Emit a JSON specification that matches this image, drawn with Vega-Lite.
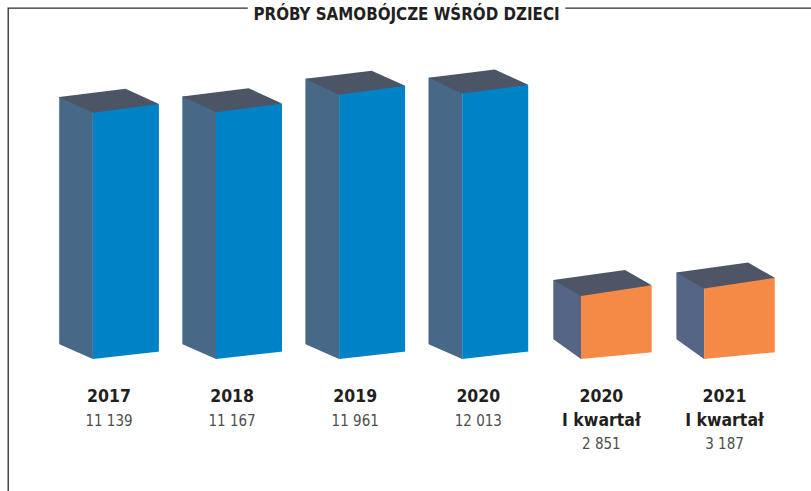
{
  "$schema": "https://vega.github.io/schema/vega-lite/v6.json",
  "width": 819,
  "height": 499,
  "autosize": {"type": "none"},
  "padding": {"left": 8, "top": 8, "right": -16, "bottom": -16},
  "background": "white",
  "title": {
    "text": "PRÓBY SAMOBÓJCZE WŚRÓD DZIECI",
    "subtitle": "PRÓBY SAMOBÓJCZE WŚRÓD DZIECI",
    "anchor": "middle",
    "frame": "group",
    "offset": -16,
    "subtitlePadding": -16.8,
    "dx": -11,
    "font": "DejaVu Sans Condensed, sans-serif",
    "fontSize": 16.8,
    "fontWeight": "bold",
    "color": "white",
    "subtitleFont": "DejaVu Sans Condensed, sans-serif",
    "subtitleFontSize": 16.8,
    "subtitleFontWeight": "bold",
    "subtitleColor": "#231f20"
  },
  "data": {
    "values": [
      {"cat": "2017", "label": "2017", "group": "rok", "value": 11139},
      {"cat": "2018", "label": "2018", "group": "rok", "value": 11167},
      {"cat": "2019", "label": "2019", "group": "rok", "value": 11961},
      {"cat": "2020", "label": "2020", "group": "rok", "value": 12013},
      {"cat": "2020 I kwartał", "label": "2020\nI kwartał", "group": "kwartał", "value": 2851},
      {"cat": "2021 I kwartał", "label": "2021\nI kwartał", "group": "kwartał", "value": 3187}
    ]
  },
  "encoding": {
    "x": {
      "field": "cat",
      "type": "nominal",
      "sort": null,
      "axis": null,
      "scale": {"range": [39.45, 778.05], "paddingInner": 0, "paddingOuter": 0}
    }
  },
  "layer": [
    {
      "transform": [{"filter": "datum.group === 'rok'"}],
      "layer": [
        {
          "mark": {"type": "bar", "width": 33.7, "xOffset": -32.95, "yOffset": -15.8, "color": "#476887"},
          "encoding": {
            "y": {"field": "value", "type": "quantitative", "axis": null, "scale": {"domain": [0, 14000], "range": [351, 41.6]}},
            "y2": {"datum": 0}
          }
        },
        {
          "mark": {"type": "bar", "width": 66, "xOffset": 16.9, "yOffset": -8.8, "color": "#0082C6"},
          "encoding": {
            "y": {"field": "value", "type": "quantitative"},
            "y2": {"datum": 0}
          }
        },
        {
          "mark": {"type": "point", "shape": "M-16.1,0L49.9,-8.8L16.5,-24L-49.8,-15.8Z", "size": 4, "filled": true, "opacity": 1, "color": "#4B5566", "strokeWidth": 0},
          "encoding": {"y": {"field": "value", "type": "quantitative"}}
        },
        {
          "mark": {"type": "point", "shape": "M-50.8,-15.3L-16.1,0L50.9,-7.6L50.9,1.5L-50.8,1.5Z", "size": 4, "filled": true, "opacity": 1, "color": "white", "strokeWidth": 0},
          "encoding": {"y": {"datum": 0, "type": "quantitative"}}
        },
        {
          "mark": {"type": "text", "font": "DejaVu Sans Condensed, sans-serif", "fontWeight": "bold", "fontSize": 17.5, "baseline": "alphabetic", "dy": 43, "lineBreak": "\n", "lineHeight": 24, "color": "#231f20"},
          "encoding": {"y": {"datum": 0, "type": "quantitative"}, "text": {"field": "label"}}
        },
        {
          "mark": {"type": "text", "font": "DejaVu Sans Condensed, sans-serif", "fontSize": 15, "baseline": "alphabetic", "dy": 67, "color": "#4d4d4d"},
          "encoding": {"y": {"datum": 0, "type": "quantitative"}, "text": {"field": "value", "type": "quantitative", "format": ",d"}}
        }
      ]
    },
    {
      "transform": [{"filter": "datum.group === 'kwartał'"}],
      "layer": [
        {
          "mark": {"type": "bar", "width": 27.7, "xOffset": -34.25, "yOffset": -16, "color": "#556585"},
          "encoding": {
            "y": {"field": "value", "type": "quantitative"},
            "y2": {"datum": 0}
          }
        },
        {
          "mark": {"type": "bar", "width": 70.7, "xOffset": 14.95, "yOffset": -10.7, "color": "#F48A45"},
          "encoding": {
            "y": {"field": "value", "type": "quantitative"},
            "y2": {"datum": 0}
          }
        },
        {
          "mark": {"type": "point", "shape": "M-20.4,0L50.3,-10.7L23.6,-26L-48.1,-16Z", "size": 4, "filled": true, "opacity": 1, "color": "#4D5567", "strokeWidth": 0},
          "encoding": {"y": {"field": "value", "type": "quantitative"}}
        },
        {
          "mark": {"type": "point", "shape": "M-49.1,-20.4L-20.4,0L51.3,-6.8L51.3,1.5L-49.1,1.5Z", "size": 4, "filled": true, "opacity": 1, "color": "white", "strokeWidth": 0},
          "encoding": {"y": {"datum": 0, "type": "quantitative"}}
        },
        {
          "mark": {"type": "text", "font": "DejaVu Sans Condensed, sans-serif", "fontWeight": "bold", "fontSize": 17.5, "baseline": "alphabetic", "dy": 43, "lineBreak": "\n", "lineHeight": 24, "color": "#231f20"},
          "encoding": {"y": {"datum": 0, "type": "quantitative"}, "text": {"field": "label"}}
        },
        {
          "mark": {"type": "text", "font": "DejaVu Sans Condensed, sans-serif", "fontSize": 15, "baseline": "alphabetic", "dy": 90, "color": "#4d4d4d"},
          "encoding": {"y": {"datum": 0, "type": "quantitative"}, "text": {"field": "value", "type": "quantitative", "format": ",d"}}
        }
      ]
    }
  ],
  "config": {
    "view": {"stroke": "#2b2b2b", "strokeWidth": 1.3},
    "style": {"group-title": {"stroke": "white", "strokeWidth": 14, "strokeJoin": "round"}},
    "locale": {"number": {"decimal": ",", "thousands": " ", "grouping": [3], "currency": ["", " zł"]}}
  }
}
